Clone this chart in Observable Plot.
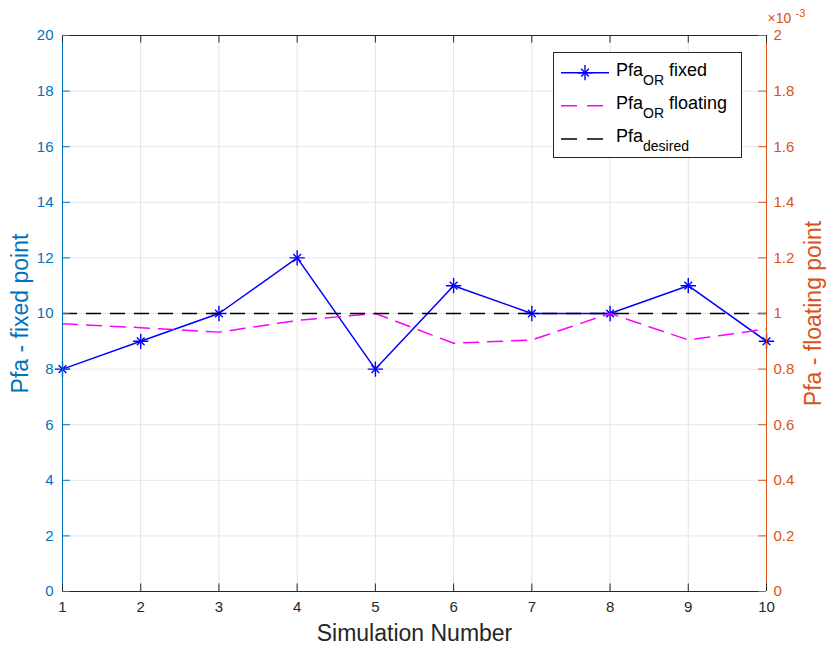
<!DOCTYPE html>
<html>
<head>
<meta charset="utf-8">
<script src="https://cdn.jsdelivr.net/npm/d3@7"></script>
<script src="https://cdn.jsdelivr.net/npm/@observablehq/plot@0.6"></script>
<style>
  body { margin: 0; background: #fff; }
  #wrap { position: relative; width: 828px; height: 648px; }
</style>
</head>
<body>
<div id="wrap"></div>
<script>
// Simulation runs (x axis)
const simulation = [1, 2, 3, 4, 5, 6, 7, 8, 9, 10];
// Pfa of the OR-fused detector, fixed-point implementation (left axis)
const fixedPfa = [8, 9, 10, 12, 8, 11, 10, 10, 11, 9];
// Pfa of the OR-fused detector, floating-point implementation (right axis)
const floatingPfa = [9.63e-4, 9.49e-4, 9.33e-4, 9.75e-4, 1.0e-3, 8.93e-4, 9.05e-4, 1.0e-3, 9.05e-4, 9.44e-4];
// Target false-alarm probability (right axis)
const desiredPfa = 1e-3;

// Tick values
const leftTicks = [0, 2, 4, 6, 8, 10, 12, 14, 16, 18, 20];
const rightTicks = [0, 0.2e-3, 0.4e-3, 0.6e-3, 0.8e-3, 1.0e-3, 1.2e-3, 1.4e-3, 1.6e-3, 1.8e-3, 2.0e-3];

const leftDomain = [0, 20];
const rightDomain = [0, 2e-3];
// right-axis values expressed in left-axis units
const toLeft = v => (v - rightDomain[0]) * (leftDomain[1] - leftDomain[0]) / (rightDomain[1] - rightDomain[0]) + leftDomain[0];

const FONT = '"Liberation Sans", Arial, Helvetica, sans-serif';
const BLUE_AX = "#0072BD";
const ORANGE_AX = "#D95319";
const DARK = "#262626";
const LINE_BLUE = "#0000FF";
const MAGENTA = "#FF00FF";
const DASH = "15,9";

const fixedData = simulation.map((s, i) => ({s, v: fixedPfa[i]}));
const floatData = simulation.map((s, i) => ({s, v: floatingPfa[i]}));
const rightLabel = d => String(+(d * 1e3).toFixed(1));

const chart = Plot.plot({
  width: 828,
  height: 648,
  marginLeft: 62,
  marginRight: 62,
  marginTop: 35,
  marginBottom: 57,
  x: {domain: [1, 10]},
  y: {domain: leftDomain},
  style: {fontFamily: FONT, background: "#fff", overflow: "visible"},
  marks: [
    // grid
    Plot.gridX(simulation, {stroke: "#e3e3e3", strokeOpacity: 1}),
    Plot.gridY(leftTicks, {stroke: "#dfe8f1", strokeOpacity: 1}),

    // data series
    Plot.line(fixedData, {x: "s", y: "v", stroke: LINE_BLUE, strokeWidth: 1.5}),
    Plot.dot(fixedData, {x: "s", y: "v", symbol: "plus", r: 5, stroke: LINE_BLUE, strokeWidth: 1.4}),
    Plot.dot(fixedData, {x: "s", y: "v", symbol: "times", r: 3.6, stroke: LINE_BLUE, strokeWidth: 1.4}),
    Plot.line(floatData, {x: "s", y: d => toLeft(d.v), stroke: MAGENTA, strokeWidth: 1.5, strokeDasharray: DASH}),
    Plot.ruleY([desiredPfa], {y: d => toLeft(d), x1: simulation[0], x2: simulation[simulation.length - 1], stroke: "#000", strokeWidth: 1.6, strokeDasharray: DASH}),

    // axis box
    Plot.ruleY([leftDomain[0]], {stroke: DARK}),
    Plot.ruleY([leftDomain[1]], {stroke: DARK}),
    Plot.ruleX([1], {stroke: BLUE_AX}),
    Plot.ruleX([10], {stroke: ORANGE_AX}),

    // inward tick marks
    Plot.ruleX(simulation, {x: d => d, y1: 0, y2: 0.27, stroke: DARK}),
    Plot.ruleX(simulation, {x: d => d, y1: 19.73, y2: 20, stroke: DARK}),
    Plot.ruleY(leftTicks, {y: d => d, x1: 1, x2: 1.1, stroke: BLUE_AX}),
    Plot.ruleY(rightTicks, {y: d => toLeft(d), x1: 9.9, x2: 10, stroke: ORANGE_AX}),

    // tick labels
    Plot.axisX(simulation, {tickSize: 0, tickPadding: 10, fontSize: 15, fill: DARK, label: null}),
    Plot.axisY(leftTicks, {anchor: "left", tickSize: 0, tickPadding: 9, fontSize: 15, fill: BLUE_AX, label: null}),
    Plot.text(rightTicks, {y: d => toLeft(d), text: rightLabel, frameAnchor: "right", textAnchor: "start", dx: 7, fontSize: 15, fill: ORANGE_AX}),
    Plot.text(["×10"], {frameAnchor: "top-right", textAnchor: "start", lineAnchor: "middle", dx: 1, dy: -17, fontSize: 14, fill: ORANGE_AX}),
    Plot.text(["-3"], {frameAnchor: "top-right", textAnchor: "start", lineAnchor: "middle", dx: 29, dy: -22, fontSize: 11, fill: ORANGE_AX}),

    // axis titles
    Plot.text(["Simulation Number"], {frameAnchor: "bottom", textAnchor: "middle", lineAnchor: "middle", dy: 42, fontSize: 23, fill: DARK}),
    Plot.text(["Pfa - fixed point"], {frameAnchor: "left", textAnchor: "middle", lineAnchor: "middle", rotate: -90, dx: -42, fontSize: 23, fill: BLUE_AX}),
    Plot.text(["Pfa - floating point"], {frameAnchor: "right", textAnchor: "middle", lineAnchor: "middle", rotate: -90, dx: 47, fontSize: 23, fill: ORANGE_AX})
  ]
});

const wrap = document.getElementById("wrap");
wrap.appendChild(chart);

// legend box
const legend = d3.create("svg")
  .attr("width", 190)
  .attr("height", 108)
  .style("position", "absolute")
  .style("left", "553px")
  .style("top", "52px")
  .style("font-family", FONT);

legend.append("rect")
  .attr("x", 0.5).attr("y", 0.5).attr("width", 188).attr("height", 105)
  .attr("fill", "#fff").attr("stroke", DARK);

const entries = [
  {main: "Pfa", sub: "OR", rest: " fixed", stroke: LINE_BLUE, dash: null, marker: true, ly: 20.7, ty: 24},
  {main: "Pfa", sub: "OR", rest: " floating", stroke: MAGENTA, dash: "16,10", marker: false, ly: 53.7, ty: 57},
  {main: "Pfa", sub: "desired", rest: "", stroke: "#000", dash: "16,10", marker: false, ly: 87, ty: 89.7}
];

entries.forEach(e => {
  legend.append("line")
    .attr("x1", 8).attr("x2", 56).attr("y1", e.ly).attr("y2", e.ly)
    .attr("stroke", e.stroke).attr("stroke-width", 1.5)
    .attr("stroke-dasharray", e.dash);
  if (e.marker) {
    const g = legend.append("g").attr("transform", `translate(32,${e.ly})`);
    g.append("path").attr("d", d3.symbol(d3.symbolPlus, Math.PI * 25)()).attr("fill", "none").attr("stroke", LINE_BLUE).attr("stroke-width", 1.4);
    g.append("path").attr("d", d3.symbol(d3.symbolTimes, Math.PI * 3.6 * 3.6)()).attr("fill", "none").attr("stroke", LINE_BLUE).attr("stroke-width", 1.4);
  }
  const t = legend.append("text").attr("x", 63).attr("y", e.ty).attr("font-size", 18).attr("fill", "#000");
  t.append("tspan").text(e.main);
  t.append("tspan").attr("dy", 9).attr("font-size", 14).text(e.sub);
  if (e.rest) t.append("tspan").attr("dy", -9).text(e.rest);
});

wrap.appendChild(legend.node());
</script>
</body>
</html>
